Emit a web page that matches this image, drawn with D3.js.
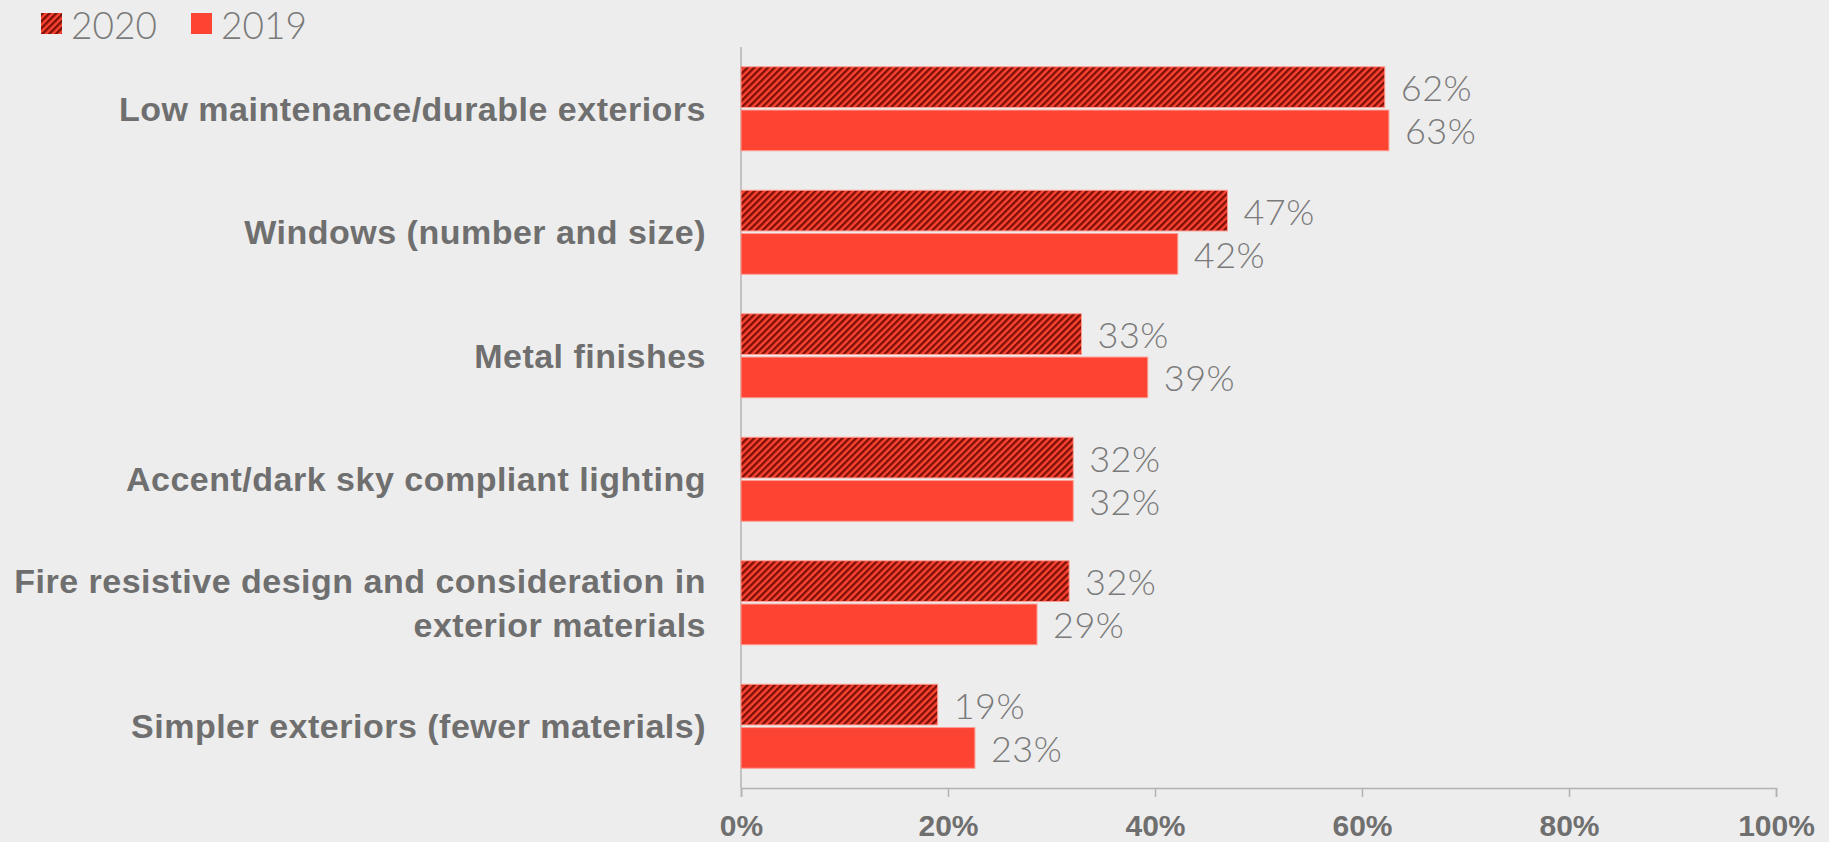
<!DOCTYPE html>
<html>
<head>
<meta charset="utf-8">
<script src="https://d3js.org/d3.v7.min.js"></script>
<style>
  body { margin: 0; background: #ededed; }
  svg { display: block; }
</style>
</head>
<body>
<svg id="chart" width="1829" height="842"></svg>
<script>
// data
var categories = [
  ["Low maintenance/durable exteriors"],
  ["Windows (number and size)"],
  ["Metal finishes"],
  ["Accent/dark sky compliant lighting"],
  ["Fire resistive design and consideration in", "exterior materials"],
  ["Simpler exteriors (fewer materials)"]
];
var values2020 = [62.2, 47.0, 32.9, 32.1, 31.7, 19.0];
var values2019 = [62.6, 42.2, 39.3, 32.1, 28.6, 22.6];
var seriesNames = ["2020", "2019"];
var xTicks = [0, 20, 40, 60, 80, 100];

var red = "#fd4433", dark = "#7d1006", grey = "#6f6f6f";

var svg = d3.select("#chart");

// hatch pattern for 2020
var pat = svg.append("defs").append("pattern")
  .attr("id", "hatch")
  .attr("patternUnits", "userSpaceOnUse")
  .attr("width", 4.8).attr("height", 4.8)
  .attr("patternTransform", "rotate(45)");
pat.append("rect").attr("width", 4.8).attr("height", 4.8).attr("fill", red);
pat.append("rect").attr("width", 2.4).attr("height", 4.8).attr("fill", dark);

var x = d3.scaleLinear().domain([0, 100]).range([741, 1776]);
var y = d3.scaleBand().domain(d3.range(categories.length))
  .range([47, 788]).paddingInner(0.32).paddingOuter(0.16);
var sub = d3.scaleBand().domain(seriesNames).range([0, y.bandwidth()]).paddingInner(0.06);

// x axis
var xAxis = svg.append("g")
  .attr("transform", "translate(0,788)")
  .call(d3.axisBottom(x).tickValues(xTicks).tickSize(9).tickFormat(function (d) { return d + "%"; }));
xAxis.select(".domain").attr("stroke", "#b3b3b3").attr("stroke-width", 1.5);
xAxis.selectAll(".tick line").attr("stroke", "#b3b3b3").attr("stroke-width", 1.5);
xAxis.selectAll(".tick text")
  .attr("y", 48)
  .attr("dy", 0)
  .attr("fill", grey)
  .attr("font-family", "Liberation Sans, Arial, sans-serif")
  .attr("font-weight", "bold")
  .attr("font-size", "30px");

// y axis line
svg.append("line")
  .attr("x1", x(0)).attr("x2", x(0))
  .attr("y1", 47).attr("y2", 788)
  .attr("stroke", "#b3b3b3").attr("stroke-width", 1.5);

var groups = svg.selectAll("g.cat")
  .data(categories)
  .enter().append("g")
  .attr("class", "cat")
  .attr("transform", function (d, i) { return "translate(0," + y(i) + ")"; });

var rows = [values2020, values2019];
seriesNames.forEach(function (s, si) {
  groups.append("rect")
    .attr("x", x(0))
    .attr("y", sub(s))
    .attr("height", sub.bandwidth())
    .attr("width", function (d, i) { return x(rows[si][i]) - x(0); })
    .attr("fill", si === 0 ? "url(#hatch)" : red)
    .attr("stroke", "#ff9c92")
    .attr("stroke-width", 1);

  groups.append("text")
    .attr("x", function (d, i) { return x(rows[si][i]) + 16; })
    .attr("y", sub(s) + sub.bandwidth() / 2)
    .attr("dominant-baseline", "central")
    .attr("fill", "#7a7a7a")
    .attr("font-family", "Lato, sans-serif")
    .attr("font-weight", 300)
    .attr("font-size", "36px")
    .attr("letter-spacing", "0.5px")
    .text(function (d, i) { return Math.round(rows[si][i]) + "%"; });
});

// category labels
groups.append("text")
  .attr("text-anchor", "end")
  .attr("fill", grey)
  .attr("font-family", "Liberation Sans, Arial, sans-serif")
  .attr("font-weight", "bold")
  .attr("font-size", "34px")
  .attr("letter-spacing", "0.5px")
  .each(function (d) {
    var t = d3.select(this);
    var mid = y.bandwidth() / 2;
    var lh = 44;
    d.forEach(function (line, k) {
      t.append("tspan")
        .attr("x", 706)
        .attr("y", mid + (k - (d.length - 1) / 2) * lh)
        .attr("dominant-baseline", "central")
        .text(line);
    });
  });

// legend
var legend = svg.append("g");
var legX = [41, 191];
seriesNames.forEach(function (s, i) {
  legend.append("rect")
    .attr("x", legX[i]).attr("y", 13)
    .attr("width", 21).attr("height", 21)
    .attr("fill", i === 0 ? "url(#hatch)" : red);
  legend.append("text")
    .attr("x", legX[i] + 30).attr("y", 24)
    .attr("dominant-baseline", "central")
    .attr("fill", "#7a7a7a")
    .attr("font-family", "Lato, sans-serif")
    .attr("font-weight", 300)
    .attr("font-size", "37px")
    .text(s);
});
</script>
</body>
</html>
